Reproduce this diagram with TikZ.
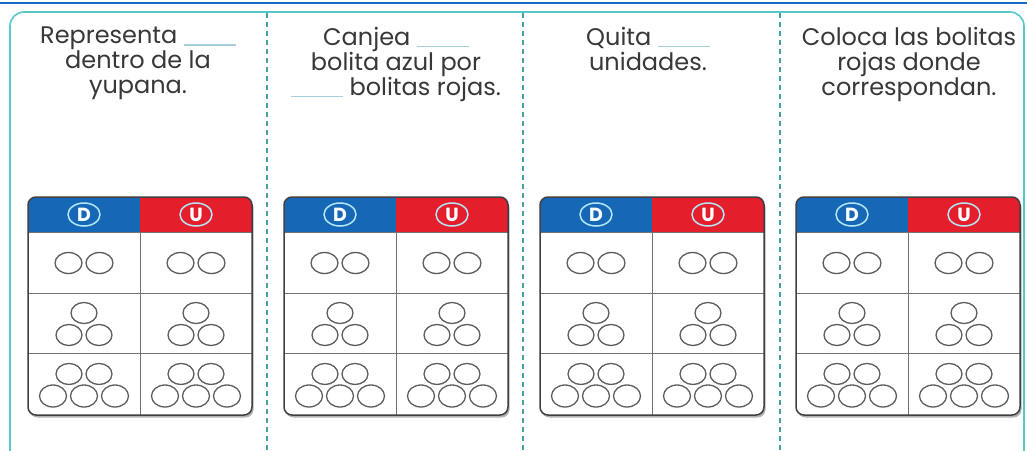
\documentclass[tikz,border=0pt]{standalone}
\usepackage{fontspec}
\setmainfont{Poppins}
\usepackage{tikz}
\usetikzlibrary{shapes.geometric,positioning,calc}
\definecolor{yupblue}{RGB}{22,104,182}
\definecolor{yupred}{RGB}{228,30,42}
\definecolor{frameteal}{RGB}{88,200,205}
\definecolor{topblue}{RGB}{18,108,200}
\definecolor{blankblue}{RGB}{165,205,220}
\definecolor{textgray}{RGB}{56,56,56}
\newcommand{\raya}{\textcolor{blankblue}{\rule[-2pt]{52pt}{1.6pt}}}

\tikzset{
  task/.style={align=center,inner sep=0pt,text=textgray,
               font=\fontsize{24}{25}\selectfont},
  hdr/.style={ellipse,draw=white!70!cyan,line width=1.5pt,text=white,
              minimum width=32pt,minimum height=23pt,inner sep=0pt,
              font=\fontsize{19}{19}\selectfont\bfseries},
  bolita/.style={draw=black!64,line width=1.3pt},
  cell/.style={draw=black!55,line width=1pt}
}

\begin{document}
\begin{tikzpicture}[x=1pt,y=-1pt]
  \clip (0,0) rectangle (1027,450);
  \fill[white] (0,0) rectangle (1027,450);
  % marco
  \draw[topblue,line width=1.5pt] (0,3) -- (1027,3);
  \draw[frameteal,line width=1.6pt,rounded corners=14pt] (10,12) rectangle (1024,475);
  \foreach \x in {267,523,780}
    \draw[frameteal!80!black,line width=1.2pt,dash pattern=on 5pt off 4pt] (\x,13) -- (\x,450);

  % consignas
  \node[task,anchor=north] (task1) at (138,27) {Representa \raya\\dentro de la\\yupana.};
  \node[task,anchor=north] (task2) at (396,27) {Canjea \raya\\bolita azul por\\\raya\ bolitas rojas.};
  \node[task,anchor=north] (task3) at (648,27) {Quita \raya\\unidades.};
  \node[task,anchor=north] (task4) at (909,27) {Coloca las bolitas\\rojas donde\\correspondan.};

  % yupanas
  \foreach \i in {0,...,3}{
    \begin{scope}[shift={(256*\i,0)}]
      \fill[black!30,rounded corners=8pt] (29.5,199.5) rectangle (253.5,417.5);
      \fill[white,rounded corners=8pt] (28,197) rectangle (252,415);
      \begin{scope}
        \clip[rounded corners=8pt] (28,197) rectangle (252,415);
        \fill[yupblue] (28,197) rectangle (140,232);
        \fill[yupred] (140,197) rectangle (252,232);
      \end{scope}
      \draw[cell] (28,232) -- (252,232) (28,293) -- (252,293)
                  (28,353) -- (252,353) (140,232) -- (140,415);
      \draw[black!75,line width=1.5pt,rounded corners=8pt] (28,197) rectangle (252,415);
      \node[hdr] (d\i) at (84,214.5) {D};
      \node[hdr] (u\i) at (196,214.5) {U};
      \foreach \c in {84,196}{
        \draw[bolita] (\c-15.5,263) ellipse [x radius=13.5pt,y radius=10.5pt];
        \draw[bolita] (\c+15.5,263) ellipse [x radius=13.5pt,y radius=10.5pt];
        \draw[bolita] (\c,313) ellipse [x radius=13pt,y radius=10.5pt];
        \draw[bolita] (\c-15,335) ellipse [x radius=13pt,y radius=10.5pt];
        \draw[bolita] (\c+15,335) ellipse [x radius=13pt,y radius=10.5pt];
        \draw[bolita] (\c-15,374) ellipse [x radius=13pt,y radius=10.5pt];
        \draw[bolita] (\c+15,374) ellipse [x radius=13pt,y radius=10.5pt];
        \draw[bolita] (\c-31,396) ellipse [x radius=13.5pt,y radius=11pt];
        \draw[bolita] (\c,396) ellipse [x radius=13.5pt,y radius=11pt];
        \draw[bolita] (\c+31,396) ellipse [x radius=13.5pt,y radius=11pt];
      }
    \end{scope}
  }
\end{tikzpicture}
\end{document}
